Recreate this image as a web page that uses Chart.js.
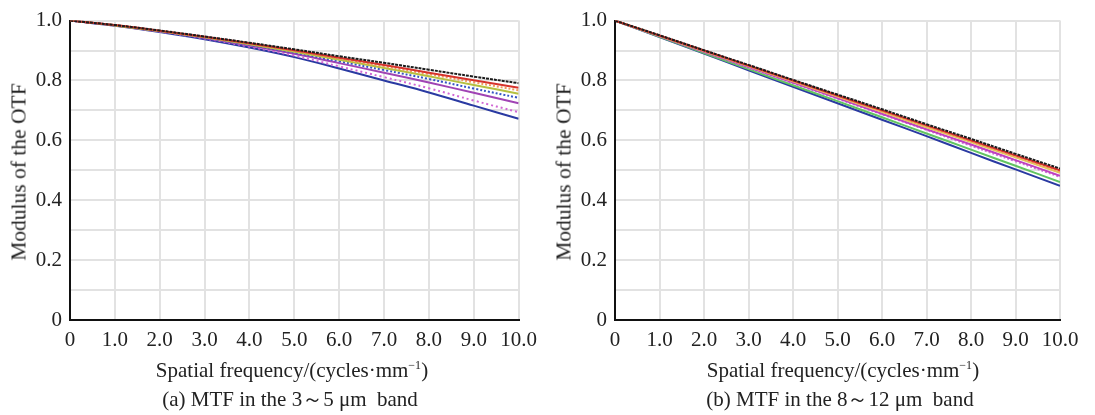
<!DOCTYPE html>
<html>
<head>
<meta charset="utf-8">
<script src="https://cdn.jsdelivr.net/npm/chart.js@4.4.1/dist/chart.umd.min.js"></script>
<style>
  body { margin: 0; background: #fff; }
  #wrap { position: relative; width: 1095px; height: 415px; font-family: 'Liberation Serif', 'Times New Roman', serif; color: #222; }
  .panel { position: absolute; top: 0; height: 415px; }
  .txt { position: absolute; white-space: nowrap; font-size: 21px; transform: translate(-50%, -50%); }
  .ytitle { position: absolute; white-space: nowrap; font-size: 21.5px; transform: translate(-50%, -50%) rotate(-90deg); }
  sup { font-size: 12px; }
</style>
</head>
<body>
<div id="wrap">
  <div class="panel" style="left:0;width:545px"><canvas id="mtfA"></canvas></div>
  <div class="panel" style="left:545px;width:550px"><canvas id="mtfB"></canvas></div>
  <div class="ytitle" style="left:19px;top:172px">Modulus of the OTF</div>
  <div class="ytitle" style="left:564px;top:172px">Modulus of the OTF</div>
  <div class="txt" style="left:292px;top:370px">Spatial frequency/(cycles·mm<sup>−1</sup>)</div>
  <div class="txt" style="left:843px;top:370px">Spatial frequency/(cycles·mm<sup>−1</sup>)</div>
  <div class="txt" style="left:290px;top:399px">(a) MTF in the 3～5 μm&nbsp; band</div>
  <div class="txt" style="left:840px;top:399px">(b) MTF in the 8～12 μm&nbsp; band</div>
</div>
<script>
// spatial frequency, cycles/mm
const freq = [0, 1, 2, 3, 4, 5, 6, 7, 8, 9, 10];

// (a) 3-5 um band, one curve per field
const midA1 = [1.0, 0.985, 0.967, 0.947, 0.926, 0.904, 0.881, 0.859, 0.836, 0.813, 0.791];
const midA2 = [1.0, 0.985, 0.966, 0.946, 0.924, 0.901, 0.876, 0.852, 0.826, 0.801, 0.776];
const midA3 = [1.0, 0.985, 0.966, 0.945, 0.923, 0.899, 0.873, 0.847, 0.821, 0.794, 0.767];
const midA4 = [1.0, 0.984, 0.965, 0.944, 0.921, 0.896, 0.869, 0.842, 0.814, 0.785, 0.756];
const midA5 = [1.0, 0.984, 0.965, 0.943, 0.919, 0.893, 0.864, 0.835, 0.805, 0.773, 0.742];
const midA6 = [1.0, 0.984, 0.964, 0.942, 0.917, 0.889, 0.858, 0.826, 0.793, 0.759, 0.724];
const midA7 = [1.0, 0.983, 0.963, 0.940, 0.913, 0.883, 0.847, 0.811, 0.774, 0.733, 0.694];
const midA8 = [1.0, 0.983, 0.962, 0.938, 0.910, 0.878, 0.840, 0.800, 0.760, 0.716, 0.672];

// (b) 8-12 um band
const lwB1 = [1.0, 0.951, 0.901, 0.852, 0.802, 0.753, 0.704, 0.654, 0.605, 0.555, 0.506];
const lwB2 = [1.0, 0.950, 0.900, 0.850, 0.800, 0.750, 0.700, 0.650, 0.600, 0.550, 0.500];
const lwB3 = [1.0, 0.950, 0.899, 0.849, 0.799, 0.749, 0.698, 0.648, 0.598, 0.547, 0.497];
const lwB4 = [1.0, 0.949, 0.898, 0.848, 0.797, 0.746, 0.695, 0.644, 0.594, 0.543, 0.492];
const lwB5 = [1.0, 0.948, 0.896, 0.845, 0.793, 0.741, 0.689, 0.637, 0.586, 0.534, 0.482];
const lwB6 = [1.0, 0.948, 0.896, 0.843, 0.791, 0.739, 0.687, 0.635, 0.582, 0.530, 0.478];
const lwB7 = [1.0, 0.946, 0.892, 0.838, 0.784, 0.731, 0.677, 0.623, 0.569, 0.515, 0.461];
const lwB8 = [1.0, 0.945, 0.890, 0.834, 0.779, 0.724, 0.669, 0.614, 0.558, 0.503, 0.448];

const xTicks = [0, 1, 2, 3, 4, 5, 6, 7, 8, 9, 10];

const serif = "'Liberation Serif', 'Times New Roman', serif";

function curve(values, color, dash) {
  return {
    data: values.map((v, i) => ({ x: freq[i], y: v })),
    borderColor: color,
    borderWidth: 2,
    borderDash: dash || [],
    pointRadius: 0,
    tension: 0.4,
    fill: false
  };
}

function mtfChart(id, datasets, padRight) {
  return new Chart(document.getElementById(id), {
    type: 'line',
    data: { datasets: datasets },
    options: {
      responsive: true,
      maintainAspectRatio: false,
      animation: false,
      layout: { padding: { top: 20, right: padRight, bottom: 0, left: 0 } },
      plugins: { legend: { display: false }, tooltip: { enabled: false } },
      scales: {
        x: {
          type: 'linear',
          min: 0,
          max: 10,
          afterFit: s => { s.height = 95; },
          afterBuildTicks: s => { s.ticks = xTicks.map(v => ({ value: v })); },
          grid: { color: '#e2e2e2', lineWidth: 2, drawTicks: false },
          border: { color: '#111', width: 2 },
          ticks: {
            padding: 8,
            maxRotation: 0,
            color: '#222',
            font: { family: serif, size: 21 },
            callback: v => (v === 0 ? '0' : v.toFixed(1))
          }
        },
        y: {
          min: 0,
          max: 1,
          afterFit: s => { s.width = 70; },
          ticks: {
            stepSize: 0.1,
            padding: 8,
            color: '#222',
            font: { family: serif, size: 21 },
            callback: v => {
              const k = Math.round(v * 10);
              if (k % 2) return '';
              return k === 0 ? '0' : (k / 10).toFixed(1);
            }
          },
          grid: { color: '#e2e2e2', lineWidth: 2, drawTicks: false },
          border: { color: '#111', width: 2 }
        }
      }
    }
  });
}

mtfChart('mtfA', [
  curve(midA1, '#1c1c1c', [3, 1]),
  curve(midA2, '#d6322c'),
  curve(midA3, '#f09a5a', [2, 2]),
  curve(midA4, '#b5c040'),
  curve(midA5, '#3454c4', [2, 2]),
  curve(midA6, '#a044b4'),
  curve(midA7, '#d066d4', [2, 3]),
  curve(midA8, '#2a3aa2')
], 20);

mtfChart('mtfB', [
  curve(lwB1, '#1c1c1c', [3, 1]),
  curve(lwB2, '#d6322c'),
  curve(lwB3, '#f09a5a', [2, 2]),
  curve(lwB4, '#e6c25a'),
  curve(lwB5, '#c040c0'),
  curve(lwB6, '#c874d8', [2, 2]),
  curve(lwB7, '#62c462'),
  curve(lwB8, '#2a3aa2')
], 35);
</script>
</body>
</html>
